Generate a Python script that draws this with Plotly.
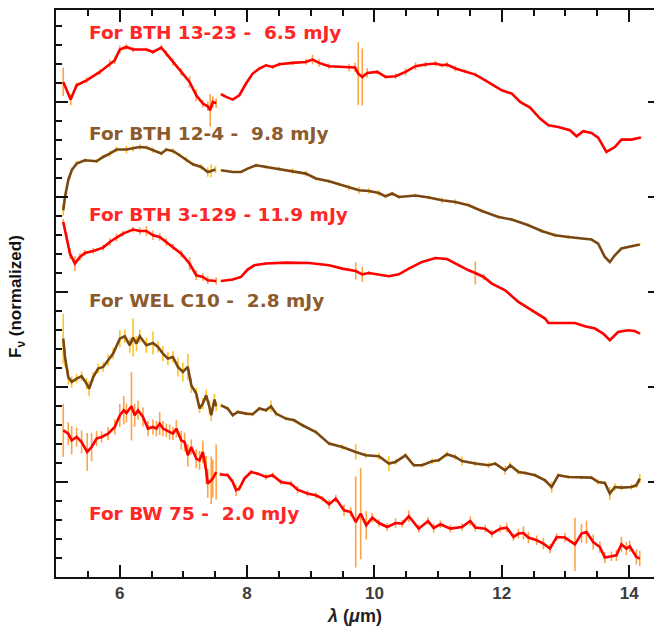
import plotly.graph_objects as go

# ---------------- data (wavelength in micron, normalized + offset flux) ----------------
# BTH 13-23
bth1323_sl_lam = [5.114,5.230,5.324,5.480,5.689,5.845,5.923,6.002,6.106,6.210,6.419,6.523,6.654,6.732,6.836,6.967,7.097,7.202,7.305,7.383,7.421,7.462,7.515]
bth1323_sl_flux = [5.211,5.025,5.176,5.228,5.316,5.404,5.439,5.552,5.579,5.552,5.552,5.526,5.573,5.509,5.421,5.316,5.211,5.071,4.983,4.955,4.913,5.000,4.989]
bth1323_sl_err = [0.15,0.06,0.03,0.03,0.03,0.04,0.04,0.04,0.03,0.03,0.02,0.02,0.03,0.03,0.04,0.04,0.06,0.06,0.04,0.05,0.17,0.06,0.05]
bth1323_ll_lam = [7.593,7.671,7.775,7.879,7.984,8.088,8.192,8.297,8.401,8.505,
                  8.714,8.923,9.027,9.131,9.288,9.601,9.695,9.746,9.809,9.887,
                  10.044,10.175,10.332,10.488,10.645,10.801,10.958,11.061,11.139,11.271,
                  11.427,11.584,11.740,11.897,12.000,12.157,12.288,12.444,12.601,12.731,
                  12.887,13.070,13.174,13.279,13.408,13.513,13.643,13.775,13.878,14.034,
                  14.182]
bth1323_ll_flux = [5.081,5.053,5.025,5.071,5.194,5.299,5.352,5.386,5.368,5.397,
                   5.411,5.421,5.446,5.411,5.376,5.362,5.362,5.299,5.263,5.305,
                   5.316,5.263,5.271,5.316,5.376,5.394,5.404,5.386,5.394,5.352,
                   5.323,5.288,5.228,5.165,5.123,5.088,5.000,4.941,4.825,4.755,
                   4.737,4.702,4.639,4.692,4.674,4.625,4.474,4.526,4.604,4.604,
                   4.625]
bth1323_ll_err = [0.01,0.01,0.01,0.01,0.01,0.01,0.02,0.01,0.02,0.02,
                  0.02,0.03,0.05,0.04,0.03,0.04,0.05,0.33,0.30,0.05,
                  0.02,0.02,0.03,0.04,0.04,0.03,0.03,0.02,0.03,0.03,
                  0.02,0.02,0.01,0.01,0.01,0.01,0.01,0.01,0.01,0.01,
                  0.01,0.01,0.01,0.01,0.01,0.01,0.01,0.01,0.01,0.01,
                  0.01]

# BTH 12-4
bth124_sl_lam = [5.114,5.141,5.192,5.246,5.324,5.454,5.637,5.740,5.845,5.950,
                 6.106,6.210,6.315,6.419,6.523,6.654,6.732,6.836,6.941,7.045,
                 7.149,7.280,7.383,7.437,7.504]
bth124_sl_flux = [3.860,4.000,4.176,4.281,4.352,4.386,4.376,4.421,4.457,4.499,
                  4.499,4.509,4.526,4.520,4.492,4.457,4.499,4.484,4.439,4.394,
                  4.344,4.316,4.263,4.274,4.288]
bth124_sl_err = [0.06,0.04,0.04,0.03,0.03,0.02,0.02,0.02,0.03,0.03,
                 0.04,0.03,0.03,0.02,0.03,0.02,0.02,0.03,0.02,0.03,
                 0.02,0.03,0.05,0.07,0.04]
bth124_ll_lam = [7.593,7.775,7.906,8.009,8.141,8.297,8.505,8.714,8.923,9.080,
                 9.288,9.444,9.601,9.757,9.914,10.070,10.175,10.278,10.383,10.645,
                 10.853,11.061,11.271,11.479,11.687,11.948,12.157,12.418,12.626,12.836,
                 13.044,13.252,13.408,13.513,13.618,13.696,13.775,13.878,14.034,14.166]
bth124_ll_flux = [4.281,4.263,4.263,4.299,4.334,4.316,4.299,4.274,4.246,4.194,
                  4.165,4.134,4.099,4.071,4.063,4.042,4.007,4.036,4.000,4.015,
                  3.994,3.965,3.947,3.913,3.853,3.789,3.762,3.702,3.642,3.597,
                  3.579,3.562,3.552,3.509,3.368,3.316,3.386,3.457,3.484,3.499]
bth124_ll_err = [0.01,0.01,0.01,0.01,0.02,0.02,0.02,0.03,0.03,0.02,
                 0.02,0.02,0.03,0.04,0.03,0.03,0.02,0.02,0.02,0.02,
                 0.02,0.03,0.03,0.02,0.02,0.02,0.02,0.02,0.02,0.02,
                 0.02,0.01,0.01,0.01,0.01,0.01,0.01,0.01,0.01,0.01]

# BTH 3-129
bth3129_sl_lam = [5.114,5.167,5.219,5.297,5.376,5.454,5.584,5.740,5.845,5.950,
                  6.053,6.210,6.315,6.419,6.523,6.628,6.732,6.836,6.967,7.097,
                  7.202,7.305,7.383,7.515]
bth3129_sl_flux = [3.737,3.579,3.404,3.299,3.368,3.411,3.432,3.467,3.526,3.573,
                   3.615,3.657,3.642,3.642,3.597,3.579,3.526,3.474,3.404,3.299,
                   3.176,3.158,3.123,3.116]
bth3129_sl_err = [0.03,0.04,0.06,0.08,0.04,0.03,0.03,0.03,0.04,0.04,
                  0.03,0.03,0.04,0.05,0.05,0.04,0.04,0.03,0.04,0.07,
                  0.05,0.04,0.04,0.04]
bth3129_ll_lam = [7.593,7.775,7.906,8.009,8.114,8.297,8.610,8.975,9.288,9.496,
                  9.706,9.809,9.914,10.070,10.227,10.383,10.540,10.748,10.958,11.139,
                  11.322,11.479,11.584,11.714,11.844,12.053,12.261,12.469,12.679,12.731,
                  12.939,13.149,13.305,13.462,13.592,13.696,13.826,13.983,14.088,14.166]
bth3129_ll_flux = [3.116,3.131,3.158,3.236,3.281,3.299,3.309,3.305,3.281,3.246,
                   3.221,3.186,3.200,3.186,3.165,3.186,3.246,3.316,3.358,3.347,
                   3.281,3.228,3.200,3.158,3.088,3.018,2.895,2.807,2.720,2.674,
                   2.674,2.674,2.639,2.615,2.562,2.492,2.579,2.597,2.589,2.562]
bth3129_ll_err = [0.01,0.01,0.01,0.01,0.01,0.01,0.01,0.01,0.01,0.01,
                  0.09,0.08,0.02,0.01,0.01,0.01,0.01,0.01,0.01,0.01,
                  0.01,0.01,0.12,0.03,0.01,0.01,0.01,0.01,0.01,0.01,
                  0.01,0.01,0.01,0.01,0.01,0.01,0.01,0.01,0.01,0.01]

# WEL C10
welc10_sl_lam = [5.114,5.141,5.192,5.246,5.324,5.402,5.480,5.521,5.584,5.662,
                 5.740,5.818,5.897,6.002,6.080,6.158,6.210,6.263,6.315,6.419,
                 6.523,6.601,6.679,6.757,6.836,6.914,6.992,7.070,7.124,7.202,
                 7.254,7.305,7.358,7.410,7.437,7.488,7.515]
welc10_sl_flux = [2.509,2.316,2.105,2.053,2.088,2.113,2.036,1.983,2.105,2.194,
                  2.211,2.281,2.352,2.509,2.534,2.439,2.520,2.457,2.534,2.439,
                  2.463,2.421,2.352,2.299,2.316,2.211,2.158,2.211,2.018,1.931,
                  1.773,1.825,1.913,1.789,1.702,1.867,1.797]
welc10_sl_err = [0.26,0.10,0.08,0.06,0.05,0.05,0.06,0.08,0.05,0.05,
                 0.05,0.06,0.06,0.09,0.07,0.08,0.20,0.08,0.07,0.08,
                 0.12,0.06,0.08,0.07,0.06,0.10,0.10,0.14,0.08,0.06,
                 0.05,0.06,0.06,0.07,0.06,0.06,0.05]
welc10_ll_lam = [7.593,7.696,7.775,7.853,7.984,8.088,8.192,8.297,8.376,8.454,
                 8.610,8.740,8.870,9.080,9.288,9.496,9.706,9.862,10.070,10.227,
                 10.332,10.488,10.618,10.748,10.905,11.009,11.139,11.271,11.374,11.584,
                 11.792,11.897,12.053,12.132,12.261,12.366,12.523,12.679,12.782,12.887,
                 13.044,13.252,13.408,13.513,13.618,13.696,13.775,13.878,14.034,14.113,
                 14.166]
welc10_ll_flux = [1.807,1.773,1.702,1.737,1.720,1.713,1.773,1.755,1.797,1.720,
                  1.667,1.649,1.597,1.526,1.404,1.368,1.316,1.281,1.271,1.194,
                  1.211,1.281,1.176,1.176,1.218,1.228,1.292,1.263,1.221,1.194,
                  1.176,1.194,1.123,1.176,1.105,1.095,1.071,1.018,0.947,1.071,
                  1.053,1.046,1.046,1.000,0.989,0.878,0.947,0.941,0.947,0.965,
                  1.036]
welc10_ll_err = [0.02,0.02,0.02,0.02,0.02,0.02,0.02,0.02,0.06,0.03,
                 0.02,0.02,0.02,0.02,0.02,0.03,0.08,0.03,0.04,0.08,
                 0.03,0.02,0.02,0.02,0.03,0.02,0.03,0.03,0.05,0.03,
                 0.03,0.02,0.05,0.03,0.03,0.02,0.02,0.02,0.06,0.02,
                 0.02,0.02,0.02,0.03,0.02,0.07,0.04,0.03,0.03,0.03,
                 0.05]

# BW 75
bw75_sl_lam = [5.114,5.192,5.246,5.324,5.402,5.490,5.559,5.637,5.715,5.818,
               5.923,6.002,6.064,6.106,6.185,6.236,6.288,6.366,6.444,6.523,
               6.576,6.628,6.679,6.732,6.784,6.836,6.889,6.967,7.019,7.070,
               7.124,7.202,7.254,7.305,7.358,7.383,7.437,7.462,7.515]
bw75_sl_flux = [1.544,1.509,1.439,1.474,1.421,1.316,1.368,1.457,1.474,1.509,
                1.579,1.702,1.755,1.726,1.797,1.702,1.755,1.684,1.562,1.579,
                1.562,1.615,1.562,1.544,1.526,1.509,1.562,1.439,1.421,1.281,
                1.368,1.246,1.228,1.316,1.123,0.983,1.018,1.036,1.105]
bw75_sl_err = [0.28,0.12,0.15,0.10,0.12,0.20,0.15,0.08,0.06,0.07,
               0.08,0.12,0.15,0.10,0.36,0.12,0.10,0.10,0.08,0.08,
               0.08,0.12,0.08,0.07,0.08,0.07,0.09,0.10,0.10,0.12,
               0.08,0.10,0.10,0.12,0.15,0.15,0.25,0.20,0.29]
bw75_ll_lam = [7.577,7.696,7.775,7.828,7.879,7.958,8.063,8.166,8.297,8.401,
               8.532,8.689,8.792,8.948,9.080,9.183,9.288,9.393,9.523,9.627,
               9.706,9.784,9.872,9.966,10.070,10.200,10.332,10.435,10.540,10.696,
               10.842,10.931,11.036,11.192,11.374,11.505,11.584,11.740,11.844,11.975,
               12.078,12.183,12.261,12.340,12.418,12.548,12.653,12.757,12.861,12.992,
               13.149,13.252,13.330,13.435,13.540,13.618,13.721,13.800,13.878,13.956,
               14.009,14.113,14.166]
bw75_ll_flux = [1.081,1.071,1.000,0.913,0.931,1.036,1.105,1.088,1.053,1.071,
                1.000,0.983,0.920,0.878,0.860,0.825,0.765,0.825,0.702,0.684,
                0.579,0.667,0.544,0.625,0.568,0.526,0.568,0.562,0.639,0.509,
                0.589,0.516,0.555,0.509,0.526,0.589,0.520,0.509,0.457,0.509,
                0.520,0.421,0.457,0.463,0.415,0.386,0.352,0.299,0.421,0.415,
                0.344,0.457,0.474,0.368,0.316,0.204,0.218,0.228,0.344,0.299,
                0.323,0.211,0.194]
bw75_ll_err = [0.02,0.02,0.03,0.06,0.03,0.02,0.02,0.02,0.03,0.03,
               0.03,0.03,0.04,0.03,0.03,0.03,0.05,0.04,0.06,0.05,
               0.48,0.48,0.15,0.05,0.04,0.04,0.05,0.04,0.06,0.04,
               0.04,0.05,0.04,0.04,0.04,0.05,0.04,0.04,0.04,0.04,
               0.05,0.04,0.05,0.07,0.06,0.05,0.06,0.05,0.04,0.05,
               0.28,0.10,0.12,0.08,0.06,0.06,0.05,0.06,0.08,0.07,
               0.06,0.08,0.08]

labels = ["For BTH 13-23 -  6.5 mJy", "For BTH 12-4 -  9.8 mJy", "For BTH 3-129 - 11.9 mJy",
          "For WEL C10 -  2.8 mJy", "For BW 75 -  2.0 mJy"]
label_lam = [5.485, 5.485, 5.485, 5.485, 5.485]
label_flux = [5.734, 4.670, 3.818, 2.912, 0.670]

x_tickvals = [6, 8, 10, 12, 14]
x_ticktext = ["6", "8", "10", "12", "14"]

# ---------------- styles ----------------
RED, BROWN = "#FF0000", "#7A4712"
ERR_RED, ERR_BROWN = "#FFA347", "#FFC51F"
TXT_RED, TXT_BROWN = "#FF2626", "#8C5B2D"
SANS = "Liberation Sans, Arial, sans-serif"

spectra = [
    (bth1323_sl_lam, bth1323_sl_flux, bth1323_sl_err, bth1323_ll_lam, bth1323_ll_flux, bth1323_ll_err, RED, ERR_RED, TXT_RED),
    (bth124_sl_lam, bth124_sl_flux, bth124_sl_err, bth124_ll_lam, bth124_ll_flux, bth124_ll_err, BROWN, ERR_BROWN, TXT_BROWN),
    (bth3129_sl_lam, bth3129_sl_flux, bth3129_sl_err, bth3129_ll_lam, bth3129_ll_flux, bth3129_ll_err, RED, ERR_RED, TXT_RED),
    (welc10_sl_lam, welc10_sl_flux, welc10_sl_err, welc10_ll_lam, welc10_ll_flux, welc10_ll_err, BROWN, ERR_BROWN, TXT_BROWN),
    (bw75_sl_lam, bw75_sl_flux, bw75_sl_err, bw75_ll_lam, bw75_ll_flux, bw75_ll_err, RED, ERR_RED, TXT_RED),
]

fig = go.Figure()
for (l1, f1, e1, l2, f2, e2, lc, ec, tc) in spectra:
    for lam, flux, err in ((l1, f1, e1), (l2, f2, e2)):
        fig.add_trace(go.Scatter(
            x=lam, y=flux, mode="markers",
            marker=dict(size=2, color="rgba(0,0,0,0)"),
            error_y=dict(type="data", array=err, color=ec, thickness=1.6, width=0),
            hoverinfo="skip", showlegend=False))
for (l1, f1, e1, l2, f2, e2, lc, ec, tc) in spectra:
    for lam, flux in ((l1, f1), (l2, f2)):
        fig.add_trace(go.Scatter(
            x=lam, y=flux, mode="lines",
            line=dict(color=lc, width=2.6),
            showlegend=False))

txt_colors = [s[8] for s in spectra]
for text, lx, ly, c in zip(labels, label_lam, label_flux, txt_colors):
    fig.add_annotation(x=lx, y=ly, xref="x", yref="y", text=text.replace("  ", " \u00a0"),
                       showarrow=False, xanchor="left", yanchor="middle",
                       font=dict(family="DejaVu Sans, sans-serif", size=18.5, color=c, weight="bold"))

fig.add_annotation(x=-0.0635, y=0.495, xref="paper", yref="paper",
                   text="F<sub>ν</sub> (normalized)", showarrow=False, textangle=-90,
                   xanchor="center", yanchor="middle",
                   font=dict(family=SANS, size=17, color="#111", weight="bold"))
fig.add_annotation(x=0.495, y=-0.0693, xref="paper", yref="paper",
                   text="<i>λ</i> (<i>μ</i>m)", showarrow=False,
                   xanchor="center", yanchor="middle",
                   font=dict(family=SANS, size=18, color="#222", weight="bold"))

axis_common = dict(showline=True, linewidth=2, linecolor="#111", mirror="ticks",
                   ticks="inside", ticklen=12, tickwidth=2, tickcolor="#111",
                   showgrid=False, zeroline=False)

# the page body adds an 8 px offset, so the figure is 8 px smaller than the window
fig.update_layout(
    width=654, height=619,
    margin=dict(l=48, r=0, t=2, b=50, pad=0),
    paper_bgcolor="white", plot_bgcolor="white",
    xaxis=dict(range=[5.0, 14.484], tickmode="array", tickvals=x_tickvals, ticktext=x_ticktext,
               tickfont=dict(family=SANS, size=17, color="#3c3c3c", weight="bold"),
               minor=dict(dtick=0.5, tick0=0, ticks="inside", ticklen=6, tickwidth=1.5, tickcolor="#111", showgrid=False),
               **axis_common),
    yaxis=dict(range=[0, 5.968], tick0=0, dtick=1, showticklabels=False,
               minor=dict(dtick=0.2, tick0=0, ticks="inside", ticklen=6, tickwidth=1.5, tickcolor="#111", showgrid=False),
               **axis_common),
)

fig.write_html("out.html")
